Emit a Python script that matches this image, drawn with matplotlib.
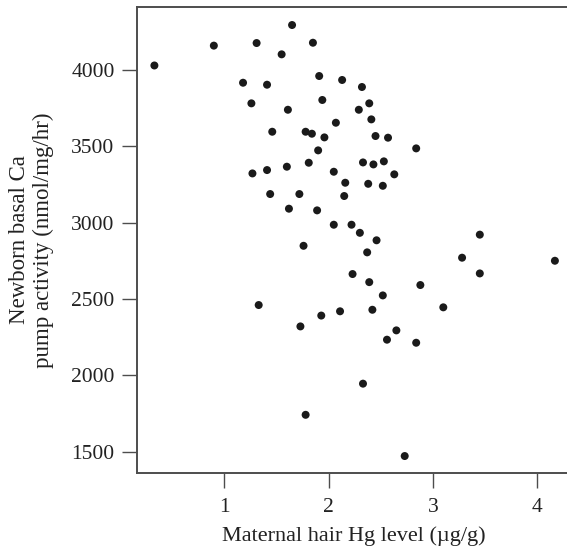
import matplotlib
matplotlib.use("Agg")
import matplotlib.pyplot as plt

# Maternal hair mercury (ug/g) vs. newborn basal Ca pump activity (nmol/mg/hr)
hg_level = [0.33, 0.90, 1.31, 1.65, 1.85, 1.55, 1.91, 2.13, 1.18, 1.41,
            1.26, 1.94, 1.61, 2.07, 1.46, 1.78, 1.84, 1.96, 1.90, 1.81,
            1.60, 1.41, 1.27, 2.05, 2.16, 1.44, 1.72, 2.15, 1.62, 1.89,
            2.05, 2.32, 2.39, 2.29, 2.41, 2.45, 2.57, 2.84, 2.33, 2.43,
            2.53, 2.63, 2.38, 2.52, 2.22, 2.30, 2.46, 3.45, 2.37, 3.28,
            4.17, 3.45, 2.23, 2.39, 2.88, 2.52, 2.11, 2.42, 3.10, 2.65,
            2.56, 2.84, 2.33, 2.73, 1.76, 1.33, 1.93, 1.73, 1.78]
ca_pump = [4030, 4160, 4177, 4295, 4179, 4103, 3961, 3935, 3917, 3904,
           3782, 3804, 3740, 3655, 3596, 3596, 3583, 3559, 3474, 3393,
           3367, 3345, 3323, 3334, 3262, 3188, 3188, 3175, 3092, 3081,
           2987, 3889, 3782, 3740, 3677, 3568, 3557, 3487, 3395, 3382,
           3402, 3317, 3255, 3242, 2987, 2934, 2885, 2922, 2806, 2771,
           2751, 2668, 2664, 2611, 2592, 2524, 2420, 2430, 2446, 2295,
           2234, 2214, 1946, 1472, 2849, 2461, 2392, 2321, 1742]

x_ticks = [1, 2, 3, 4]
y_ticks = [1500, 2000, 2500, 3000, 3500, 4000]

plt.rcParams['font.family'] = ['Liberation Serif', 'DejaVu Serif']
txt = '#222222'
edge = '#4d4d4d'

fig = plt.figure(figsize=(5.67, 5.49), dpi=100)
ax = fig.add_axes([0.2425, 0.1393, 0.7575, 0.8485])

ax.scatter(hg_level, ca_pump, s=33, color='#1a1a1a', edgecolors='none', zorder=3)

ax.set_xlim(0.168, 4.286)
ax.set_ylim(1364, 4415)
ax.set_xticks(x_ticks)
ax.set_yticks(y_ticks)
ax.tick_params(axis='both', length=10.5, width=1.0, color=edge,
               labelsize=15.5, labelcolor=txt)
ax.tick_params(axis='y', pad=6)
ax.tick_params(axis='x', pad=8)

ax.spines['right'].set_visible(False)
for side in ['left', 'top', 'bottom']:
    ax.spines[side].set_color(edge)
    ax.spines[side].set_linewidth(1.4)

fig.text(354 / 567, 1 - 536 / 549, 'Maternal hair Hg level (\u00b5g/g)',
         ha='center', va='center', fontsize=16, color=txt)
fig.text(31.5 / 567, 1 - 240 / 549, 'Newborn basal Ca\npump activity (nmol/mg/hr)',
         ha='center', va='center', rotation=90, multialignment='center',
         linespacing=1.2, fontsize=16.5, color=txt)

fig.savefig('out.png', dpi=100)
